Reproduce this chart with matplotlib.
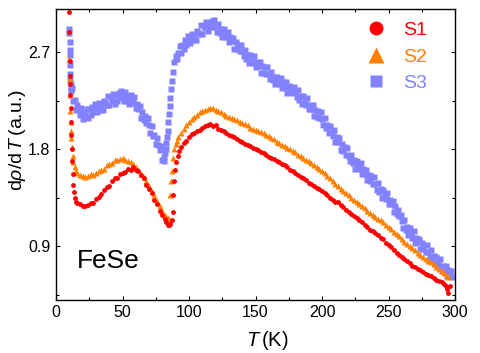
#!/usr/bin/env python3
"""Plot d(rho)/dT against temperature for three FeSe samples."""

import matplotlib
matplotlib.use('Agg')
from matplotlib import pyplot as plt, rc
from matplotlib.lines import Line2D
from matplotlib.ticker import FixedLocator, MultipleLocator


RED = '#ff0000'
ORANGE = '#ff8000'
BLUE = '#8282ff'

# S1: temperatures (K) and d(rho)/dT (a.u.)
T1 = ([10.0, 10.0, 10.2, 10.4, 10.6, 10.8, 11.0, 11.2, 11.4, 11.7,
       12.0, 12.4, 12.8, 13.3, 14.0, 15.0]
      + list(range(16, 83, 2))
      + [83, 84, 85, 86, 87, 87.7, 88.3, 89, 89.7, 90.5, 91.5, 92.5,
         94, 96, 98]
      + list(range(100, 293, 2))
      + [293, 294, 295, 296])
S1 = [3.07, 2.89, 2.62, 2.48, 2.40, 2.30, 2.18, 2.05, 1.93, 1.80,
      1.69, 1.57, 1.47, 1.40, 1.35, 1.31,
      1.30, 1.29, 1.27, 1.27, 1.28, 1.30, 1.30, 1.34, 1.36, 1.38,
      1.42, 1.45, 1.46, 1.50, 1.53, 1.53, 1.57, 1.58, 1.59, 1.62,
      1.61, 1.63, 1.61, 1.60, 1.56, 1.53, 1.47, 1.43, 1.39, 1.33,
      1.29, 1.23, 1.19, 1.15,
      1.12, 1.10, 1.10, 1.11, 1.14, 1.22, 1.37, 1.50, 1.61, 1.68,
      1.74, 1.78, 1.82, 1.86, 1.88,
      1.91, 1.94, 1.95, 1.97, 1.98, 2.00, 2.01, 2.02, 2.03, 2.01,
      2.02, 1.99, 1.98, 1.97, 1.95, 1.93, 1.92, 1.91, 1.89, 1.88,
      1.87, 1.85, 1.84, 1.83, 1.81,
      1.80, 1.79, 1.77, 1.76, 1.75, 1.73, 1.72, 1.71, 1.69, 1.68,
      1.66, 1.65, 1.63, 1.61, 1.60, 1.58, 1.56, 1.54, 1.53, 1.51,
      1.49, 1.48, 1.46, 1.44, 1.43,
      1.41, 1.39, 1.37, 1.35, 1.33, 1.31, 1.31, 1.28, 1.26, 1.24,
      1.22, 1.20, 1.18, 1.16, 1.14, 1.12, 1.10, 1.08, 1.05, 1.04,
      1.02, 1.00, 0.98, 0.97, 0.93,
      0.91, 0.89, 0.86, 0.84, 0.82, 0.80, 0.78, 0.76, 0.74, 0.72,
      0.71, 0.69, 0.68, 0.66, 0.64, 0.63, 0.62, 0.60, 0.59, 0.58,
      0.57, 0.55,
      0.53, 0.50, 0.47, 0.53]

# S2
T2 = ([10.0, 10.2, 10.4, 10.7, 11.0, 11.3, 11.6, 12.0, 12.5, 13.0,
       14, 15]
      + list(range(16, 83, 2))
      + [83, 84, 85, 86, 86.6, 87.2, 88, 89, 90, 91, 92, 94, 96, 98]
      + list(range(100, 295, 2))
      + [295])
S2 = [2.64, 2.45, 2.30, 2.15, 2.05, 1.97, 1.90, 1.82, 1.74, 1.68,
      1.63, 1.60,
      1.58, 1.56, 1.55, 1.54, 1.55, 1.57, 1.56, 1.58, 1.60, 1.61,
      1.62, 1.65, 1.66, 1.67, 1.70, 1.70, 1.71, 1.72, 1.70, 1.69,
      1.68, 1.66, 1.63, 1.61, 1.57, 1.54, 1.50, 1.46, 1.41, 1.37,
      1.32, 1.27, 1.23, 1.19,
      1.17, 1.16, 1.15, 1.37, 1.50, 1.60, 1.72, 1.80, 1.85, 1.88,
      1.91, 1.95, 1.99, 2.02,
      2.05, 2.08, 2.10, 2.12, 2.14, 2.15, 2.16, 2.17, 2.18, 2.18,
      2.16, 2.15, 2.14, 2.13, 2.11, 2.10, 2.09, 2.08, 2.07, 2.05,
      2.04, 2.03, 2.02, 2.00, 1.99,
      1.98, 1.97, 1.96, 1.95, 1.93, 1.92, 1.90, 1.89, 1.87, 1.86,
      1.84, 1.83, 1.81, 1.80, 1.78, 1.77, 1.75, 1.74, 1.72, 1.70,
      1.69, 1.67, 1.65, 1.63, 1.62,
      1.60, 1.58, 1.55, 1.53, 1.50, 1.48, 1.46, 1.43, 1.41, 1.39,
      1.37, 1.35, 1.33, 1.31, 1.29, 1.27, 1.25, 1.23, 1.21, 1.19,
      1.17, 1.15, 1.14, 1.12, 1.10,
      1.08, 1.06, 1.03, 1.01, 0.99, 0.97, 0.94, 0.92, 0.90, 0.88,
      0.86, 0.84, 0.82, 0.80, 0.78, 0.76, 0.75, 0.73, 0.71, 0.69,
      0.67, 0.65, 0.63,
      0.61]

# S3 (noisier)
T3 = ([10.0, 10.1, 10.2, 10.3, 10.4, 10.5, 10.6, 10.8, 11.0, 11.3, 11.6]
      + list(range(12, 82))
      + [81.5, 82, 82.5, 83, 83.5, 84, 84.5, 85, 85.5, 86, 86.5, 87]
      + list(range(88, 299)))
S3 = [2.91, 2.88, 2.79, 2.72, 2.67, 2.58, 2.50, 2.44, 2.40, 2.37, 2.34,
      2.37, 2.25, 2.26, 2.16, 2.21, 2.16, 2.12, 2.18, 2.08, 2.14,
      2.12, 2.17, 2.09, 2.17, 2.12, 2.19, 2.14, 2.22, 2.17, 2.14,
      2.23, 2.16, 2.21, 2.16, 2.25, 2.23, 2.21, 2.29, 2.21, 2.27,
      2.25, 2.31, 2.22, 2.30, 2.25, 2.32, 2.27, 2.34, 2.29, 2.25,
      2.33, 2.25, 2.29, 2.22, 2.30, 2.26, 2.23, 2.28, 2.18, 2.22,
      2.17, 2.20, 2.09, 2.14, 2.07, 2.11, 2.04, 2.09, 2.02, 1.95,
      2.01, 1.92, 1.93, 1.85, 1.90, 1.84, 1.79, 1.83, 1.70, 1.73,
      1.69, 1.76, 1.80, 1.86, 1.91, 1.97, 2.05, 2.13, 2.20, 2.27,
      2.36, 2.43,
      2.52, 2.61, 2.66, 2.64,
      2.69, 2.76, 2.69, 2.77, 2.73, 2.81, 2.77, 2.85, 2.81, 2.78,
      2.87, 2.81, 2.86, 2.81, 2.90, 2.88, 2.87, 2.95, 2.87, 2.94,
      2.92, 2.98, 2.90, 2.97, 2.93, 2.99, 2.93, 3.00, 2.94, 2.89,
      2.96, 2.88, 2.91, 2.84, 2.91, 2.87, 2.84, 2.89, 2.79, 2.84,
      2.80, 2.83, 2.73, 2.79, 2.73, 2.77, 2.71, 2.77, 2.71, 2.66,
      2.72, 2.64, 2.67, 2.60, 2.67, 2.63, 2.60, 2.66, 2.56, 2.61,
      2.57, 2.61, 2.51, 2.57, 2.51, 2.56, 2.50, 2.56, 2.50, 2.45,
      2.52, 2.44, 2.47, 2.40, 2.47, 2.43, 2.40, 2.46, 2.37, 2.42,
      2.38, 2.42, 2.32, 2.39, 2.33, 2.38, 2.32, 2.38, 2.33, 2.28,
      2.35, 2.26, 2.29, 2.22, 2.29, 2.24, 2.21, 2.27, 2.17, 2.21,
      2.17, 2.21, 2.11, 2.16, 2.10, 2.15, 2.09, 2.14, 2.08, 2.02,
      2.09, 2.00, 2.02, 1.95, 2.01, 1.96, 1.92, 1.98, 1.87, 1.91,
      1.87, 1.90, 1.79, 1.85, 1.78, 1.82, 1.75, 1.81, 1.74, 1.69,
      1.75, 1.67, 1.70, 1.62, 1.69, 1.65, 1.62, 1.67, 1.57, 1.62,
      1.57, 1.61, 1.51, 1.56, 1.50, 1.55, 1.48, 1.54, 1.48, 1.42,
      1.49, 1.40, 1.43, 1.35, 1.42, 1.37, 1.34, 1.39, 1.29, 1.33,
      1.29, 1.32, 1.22, 1.27, 1.20, 1.24, 1.18, 1.19, 1.13, 1.07,
      1.14, 1.05, 1.08, 1.00, 1.07, 1.02, 0.98, 1.04, 0.93, 0.98,
      0.94, 0.97, 0.87, 0.93, 0.87, 0.91, 0.85, 0.91, 0.85, 0.80,
      0.86, 0.78, 0.81, 0.73, 0.80, 0.75, 0.72, 0.78, 0.67, 0.72,
      0.68, 0.72, 0.62, 0.68, 0.62, 0.67, 0.61]

X_TICKS = [0, 50, 100, 150, 200, 250, 300]
Y_TICKS = [0.9, 1.8, 2.7]
Y_MINOR = [0.45, 1.35, 2.25, 3.15]


def main():
    """Draw the three samples and save the figure."""
    rc('font', family='Liberation Sans', size=11.5)
    rc('mathtext', fontset='custom', rm='Liberation Sans',
       it='Liberation Sans:italic')

    fig = plt.figure(figsize=(4.8, 3.53), dpi=100)
    ax = fig.add_axes([0.1167, 0.150, 0.8313, 0.8245])

    ax.plot(T3, S3, 's', color=BLUE, ms=3.9, mec='none')
    ax.plot(T2, S2, '^', color=ORANGE, ms=4.0, mec='none')
    ax.plot(T1, S1, 'o', color=RED, ms=3.5, mec='none')

    ax.set_xlim(0, 300)
    ax.set_ylim(0.40, 3.10)
    ax.xaxis.set_major_locator(FixedLocator(X_TICKS))
    ax.xaxis.set_minor_locator(MultipleLocator(25))
    ax.yaxis.set_major_locator(FixedLocator(Y_TICKS))
    ax.yaxis.set_minor_locator(FixedLocator(Y_MINOR))
    ax.set_yticklabels(['%.1f' % v for v in Y_TICKS])
    ax.tick_params(which='both', direction='in', top=True, right=True,
                   labelsize=11.5, width=0.8)
    ax.tick_params(which='major', length=3)
    ax.tick_params(which='minor', length=2)
    ax.tick_params(axis='y', pad=4)
    for spine in ax.spines.values():
        spine.set_linewidth(1.0)

    ax.set_xlabel(r'$T\,$(K)', fontsize=14.5)
    ax.xaxis.set_label_coords(0.53, -0.10, transform=ax.transAxes)
    ax.xaxis.label.set_va('top')
    ax.set_ylabel(r'd$\rho$/d$\,T\,$(a.u.)', fontsize=14)
    ax.yaxis.set_label_coords(-0.069, 0.55, transform=ax.transAxes)

    ax.text(16, 0.70, 'FeSe', fontsize=19, va='baseline')

    handles = [
        Line2D([], [], ls='', marker='o', color=RED, ms=10, mec='none'),
        Line2D([], [], ls='', marker='^', color=ORANGE, ms=11, mec='none'),
        Line2D([], [], ls='', marker='s', color=BLUE, ms=9, mec='none'),
    ]
    ax.legend(handles, ['S1', 'S2', 'S3'], loc='upper right',
              bbox_to_anchor=(0.955, 0.99), frameon=False, fontsize=14,
              labelcolor=[RED, ORANGE, BLUE], handlelength=1.0,
              handletextpad=0.9, labelspacing=0.45, borderpad=0)

    fig.savefig('out.png', dpi=100)


if __name__ == '__main__':
    main()
